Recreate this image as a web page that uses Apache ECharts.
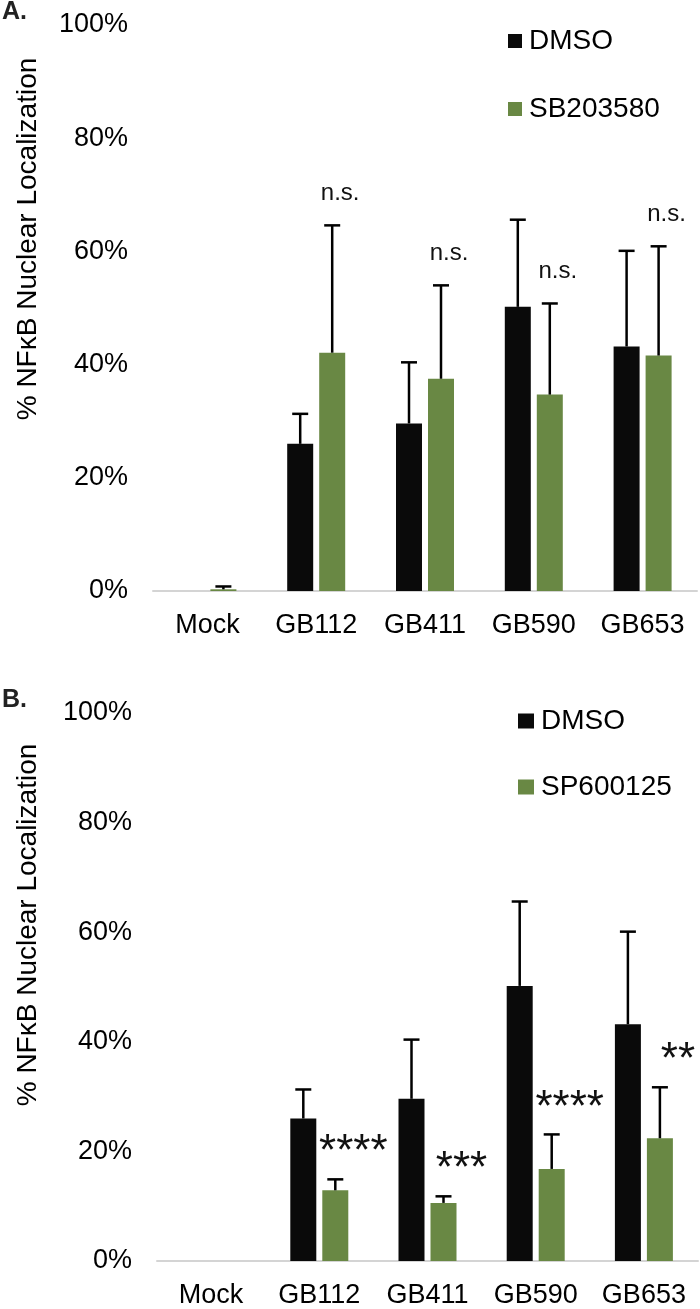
<!DOCTYPE html>
<html>
<head>
<meta charset="utf-8">
<script src="https://cdn.jsdelivr.net/npm/echarts@6/dist/echarts.min.js"></script>
<style>
html, body { margin: 0; padding: 0; background: #fff; }
#main { width: 700px; height: 1309px; }
</style>
</head>
<body>
<div id="main"></div>
<script>
var categories = ['Mock', 'GB112', 'GB411', 'GB590', 'GB653'];
var yTicks = [0, 20, 40, 60, 80, 100];

// DMSO is the same control in both panels
var dmso = [0, 26.0, 29.6, 50.2, 43.2];
var dmsoErr = [0, 5.3, 10.8, 15.4, 16.9];

// panel A
var sb203580 = [0.3, 42.1, 37.5, 34.7, 41.6];
var sb203580Err = [0.5, 22.5, 16.5, 16.1, 19.3];
var sbMarks = ['', 'n.s.', 'n.s.', 'n.s.', 'n.s.'];

// panel B
var sp600125 = [0, 12.9, 10.6, 16.8, 22.4];
var sp600125Err = [0, 2.0, 1.2, 6.3, 9.3];
var spMarks = ['', '****', '***', '****', '**'];

var GREEN = '#698844';
var BLACK = '#0a0a0a';
var FONT = '"Liberation Sans", Arial, sans-serif';
var BAR_W = 26;
var BAR_GAP = 6;

function errorSeries(name, vals, errs, marks, side, grid, markStyle) {
	var data = vals.map(function (v, i) {
		return [i, v, errs[i], marks ? marks[i] : ''];
	});
	return {
		type: 'custom',
		name: name + ' err',
		xAxisIndex: grid,
		yAxisIndex: grid,
		z: 5,
		silent: true,
		data: data,
		renderItem: function (params, api) {
			var i = api.value(0), v = api.value(1), e = api.value(2);
			var mark = data[params.dataIndex][3];
			var base = api.coord([i, v]);
			var top = api.coord([i, v + e]);
			var x = base[0] + side * (BAR_W + BAR_GAP) / 2;
			var children = [];
			if (e > 0) {
				children.push({
					type: 'line',
					shape: { x1: x, y1: base[1], x2: x, y2: top[1] },
					style: { stroke: '#000', lineWidth: 2.5 }
				});
				children.push({
					type: 'line',
					shape: { x1: x - 8, y1: top[1], x2: x + 8, y2: top[1] },
					style: { stroke: '#000', lineWidth: 2.5 }
				});
			}
			if (mark) {
				children.push({
					type: 'text',
					x: x + markStyle.dx,
					y: top[1] - markStyle.dy,
					style: {
						text: mark,
						fill: '#111',
						font: markStyle.font,
						textAlign: 'center',
						textVerticalAlign: 'middle'
					}
				});
			}
			return { type: 'group', children: children };
		}
	};
}

function barSeries(name, vals, color, grid) {
	return {
		type: 'bar',
		name: name,
		xAxisIndex: grid,
		yAxisIndex: grid,
		data: vals,
		barWidth: BAR_W,
		barGap: (BAR_GAP / BAR_W * 100) + '%',
		itemStyle: { color: color },
		silent: true
	};
}

function xAx(grid) {
	return {
		type: 'category',
		gridIndex: grid,
		data: categories,
		axisLine: { lineStyle: { color: '#d4d4d4', width: 2 } },
		axisTick: { show: false },
		axisLabel: { color: '#000', fontSize: 27, fontFamily: FONT, margin: 21, interval: 0, hideOverlap: false }
	};
}

function yAx(grid) {
	return {
		type: 'value',
		gridIndex: grid,
		min: yTicks[0],
		max: yTicks[yTicks.length - 1],
		interval: 20,
		axisLine: { show: false },
		axisTick: { show: false },
		splitLine: { show: false },
		axisLabel: {
			color: '#000', fontSize: 27, fontFamily: FONT, margin: 25,
			formatter: function (v) { return v + '%'; }
		}
	};
}

var nsStyle = { dx: 8, dy: 32, font: '24px ' + FONT };
var starStyle = { dx: 18, dy: 26, font: '44px ' + FONT };

var legendText = { fontSize: 28, fontFamily: FONT, color: '#000', padding: [0, 0, 0, 2] };

var myChart = echarts.init(document.getElementById('main'));
var option = {
	animation: false,
	backgroundColor: '#fff',
	grid: [
		{ left: 153, right: 3, top: 25, height: 566 },
		{ left: 157, right: 2, top: 713, height: 551 }
	],
	xAxis: [xAx(0), xAx(1)],
	yAxis: [yAx(0), yAx(1)],
	legend: [
		{
			data: ['DMSO', 'SB203580'],
			orient: 'vertical',
			left: 503, top: 22,
			itemWidth: 14, itemHeight: 14, itemGap: 40,
			icon: 'rect',
			textStyle: legendText
		},
		{
			data: ['DMSO', 'SP600125'],
			orient: 'vertical',
			left: 513, top: 702,
			itemWidth: 16, itemHeight: 15, itemGap: 38,
			icon: 'rect',
			textStyle: legendText
		}
	],
	graphic: [
		{ type: 'text', x: 2, y: 12, style: { text: 'A.', font: 'bold 25px ' + FONT, fill: '#222', textVerticalAlign: 'middle' } },
		{ type: 'text', x: 2, y: 700, style: { text: 'B.', font: 'bold 25px ' + FONT, fill: '#222', textVerticalAlign: 'middle' } },
		{ type: 'text', x: 28, y: 239, rotation: Math.PI / 2, style: { text: '% NFκB Nuclear Localization', font: '28px ' + FONT, fill: '#000', textAlign: 'center', textVerticalAlign: 'middle' } },
		{ type: 'text', x: 28, y: 925, rotation: Math.PI / 2, style: { text: '% NFκB Nuclear Localization', font: '28px ' + FONT, fill: '#000', textAlign: 'center', textVerticalAlign: 'middle' } }
	],
	series: [
		barSeries('DMSO', dmso, BLACK, 0),
		barSeries('SB203580', sb203580, GREEN, 0),
		errorSeries('DMSO', dmso, dmsoErr, null, -1, 0),
		errorSeries('SB203580', sb203580, sb203580Err, sbMarks, 1, 0, nsStyle),
		barSeries('DMSO', dmso, BLACK, 1),
		barSeries('SP600125', sp600125, GREEN, 1),
		errorSeries('DMSO', dmso, dmsoErr, null, -1, 1),
		errorSeries('SP600125', sp600125, sp600125Err, spMarks, 1, 1, starStyle)
	]
};
myChart.setOption(option);
</script>
</body>
</html>
